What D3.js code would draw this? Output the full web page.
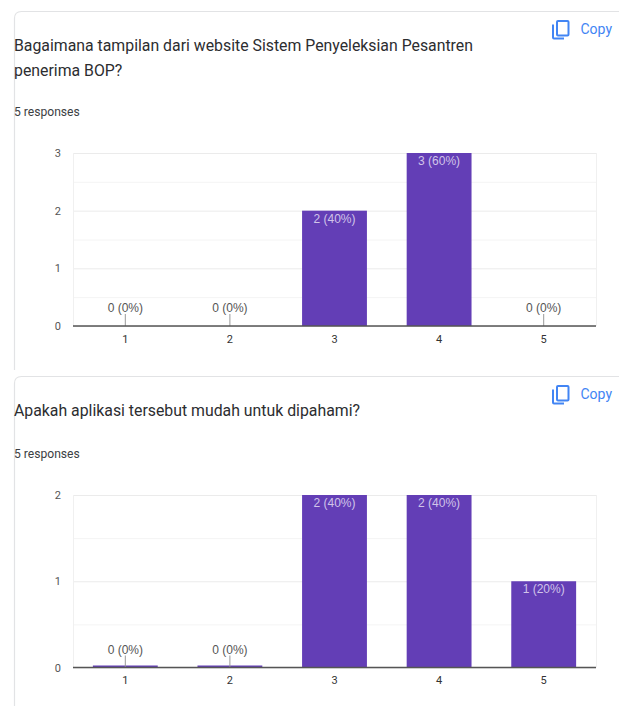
<!DOCTYPE html>
<html>
<head>
<meta charset="utf-8">
<script src="https://cdn.jsdelivr.net/npm/d3@7"></script>
<style>
  html, body { margin: 0; padding: 0; background: #fff; overflow: hidden; }
  text { font-family: Roboto, sans-serif; }
  .value-label { font-family: Arial, "Liberation Sans", sans-serif; font-size: 12px; }
</style>
</head>
<body>
<div id="chart"></div>
<script>
// chart data
var categories = ["1", "2", "3", "4", "5"];

var titleOne = ["Bagaimana tampilan dari website Sistem Penyeleksian Pesantren", "penerima BOP?"];
var valuesOne = [0, 0, 2, 3, 0];
var labelsOne = ["0 (0%)", "0 (0%)", "2 (40%)", "3 (60%)", "0 (0%)"];
var ticksOne = [0, 1, 2, 3];

var titleTwo = ["Apakah aplikasi tersebut mudah untuk dipahami?"];
var valuesTwo = [0, 0, 2, 2, 1];
var labelsTwo = ["0 (0%)", "0 (0%)", "2 (40%)", "2 (40%)", "1 (20%)"];
var ticksTwo = [0, 1, 2];

var responses = "5 responses";

var svgWidth = 619;
var svgHeight = 706;
var purple = "#633eb6";

var svg = d3.select("#chart").append("svg")
  .attr("width", svgWidth)
  .attr("height", svgHeight)
  .style("display", "block");

// one response card with its column chart
function drawCard(opts) {
  // card outline, runs off the right edge of the page
  var x0 = 14.5, r = 7;
  var outline = "M" + x0 + "," + opts.cardBottom +
    "V" + (opts.cardTop + r) +
    "Q" + x0 + "," + opts.cardTop + " " + (x0 + r) + "," + opts.cardTop +
    "H" + (svgWidth + 5);
  svg.append("path").attr("d", outline)
    .attr("fill", "none").attr("stroke", "#e2e3e5").attr("stroke-width", 1.2);

  // title and response count
  opts.title.forEach(function (line, i) {
    svg.append("text").attr("x", 14).attr("y", opts.titleY + i * 25)
      .attr("font-size", 15.83).attr("fill", "#2c2d30").text(line);
  });
  svg.append("text").attr("x", 14).attr("y", opts.responsesY)
    .attr("font-size", 12.1).attr("fill", "#3c4043").text(responses);

  // copy button
  var icon = svg.append("g")
    .attr("transform", "translate(" + 552 + "," + opts.copyY + ")")
    .attr("fill", "none").attr("stroke", "#4285f4").attr("stroke-width", 2);
  icon.append("rect").attr("x", 5).attr("y", 1).attr("width", 11.5).attr("height", 14.5).attr("rx", 1);
  icon.append("path").attr("d", "M1,4.5V17.5a1,1 0 0 0 1,1H12");
  svg.append("text").attr("x", 580.5).attr("y", opts.copyY + 14)
    .attr("font-size", 14).attr("fill", "#4285f4").text("Copy");

  // scales
  var xScale = d3.scaleBand().domain(categories).range([73, 596]).paddingInner(0.38).paddingOuter(0.19);
  var yScale = d3.scaleLinear().domain([0, d3.max(opts.ticks)]).range([opts.plotBottom, opts.plotTop]);

  var chartGroup = svg.append("g");

  // gridlines, major and half steps
  var halfTicks = d3.range(0, d3.max(opts.ticks) + 0.5, 0.5);
  chartGroup.selectAll(".grid").data(halfTicks).enter().append("line")
    .attr("class", "grid")
    .attr("x1", 73).attr("x2", 596)
    .attr("y1", function (d) { return yScale(d) + 0.5; })
    .attr("y2", function (d) { return yScale(d) + 0.5; })
    .attr("stroke", function (d) { return d % 1 === 0 ? "#ebebeb" : "#f4f4f4"; });
  // plot frame sides
  [73, 596].forEach(function (px) {
    chartGroup.append("line").attr("x1", px + 0.5).attr("x2", px + 0.5)
      .attr("y1", opts.plotTop).attr("y2", opts.plotBottom).attr("stroke", "#f0f0f0");
  });

  // bars
  chartGroup.selectAll(".bar").data(opts.values).enter().append("rect")
    .attr("class", "bar")
    .attr("x", function (d, i) { return xScale(categories[i]); })
    .attr("width", xScale.bandwidth())
    .attr("y", function (d) { return d > 0 ? yScale(d) : opts.plotBottom - opts.zeroBar; })
    .attr("height", function (d) { return d > 0 ? opts.plotBottom - yScale(d) : opts.zeroBar; })
    .attr("fill", purple);

  // y axis tick labels
  var yAxis = d3.axisLeft(yScale).tickValues(opts.ticks).tickSize(0).tickPadding(12).tickFormat(d3.format("d"));
  var yG = chartGroup.append("g").attr("transform", "translate(73,0)").call(yAxis);
  yG.select(".domain").remove();
  yG.selectAll("text").attr("font-family", "Arial, 'Liberation Sans', sans-serif")
    .attr("font-size", 11).attr("fill", "#555");

  // x axis
  var xAxis = d3.axisBottom(xScale).tickSize(0).tickPadding(9);
  var xG = chartGroup.append("g").attr("transform", "translate(0," + opts.plotBottom + ")").call(xAxis);
  xG.select(".domain").remove();
  xG.selectAll("text").attr("font-family", "Arial, 'Liberation Sans', sans-serif")
    .attr("font-size", 11).attr("fill", "#333");

  // value labels, zero columns get a short stem
  opts.values.forEach(function (v, i) {
    var cx = xScale(categories[i]) + xScale.bandwidth() / 2;
    if (v === 0) {
      chartGroup.append("line").attr("x1", cx).attr("x2", cx)
        .attr("y1", opts.plotBottom - 12).attr("y2", opts.plotBottom)
        .attr("stroke", "#999").attr("stroke-width", 1);
    }
    chartGroup.append("text").attr("class", "value-label")
      .attr("x", cx)
      .attr("y", v === 0 ? opts.plotBottom - 14 : yScale(v) + 12)
      .attr("text-anchor", "middle")
      .attr("fill", v === 0 ? "#555" : "#d1c4e9")
      .text(opts.labels[i]);
  });

  // baseline
  chartGroup.append("line").attr("x1", 73).attr("x2", 596)
    .attr("y1", opts.plotBottom).attr("y2", opts.plotBottom)
    .attr("stroke", "#555").attr("stroke-width", 1.3);
}

drawCard({
  title: titleOne, values: valuesOne, labels: labelsOne, ticks: ticksOne,
  cardTop: 11.5, cardBottom: 370, titleY: 51, responsesY: 116, copyY: 20,
  plotTop: 153, plotBottom: 326, zeroBar: 0
});
drawCard({
  title: titleTwo, values: valuesTwo, labels: labelsTwo, ticks: ticksTwo,
  cardTop: 376.5, cardBottom: 706, titleY: 416, responsesY: 458, copyY: 385,
  plotTop: 495, plotBottom: 667.5, zeroBar: 2
});
</script>
</body>
</html>
